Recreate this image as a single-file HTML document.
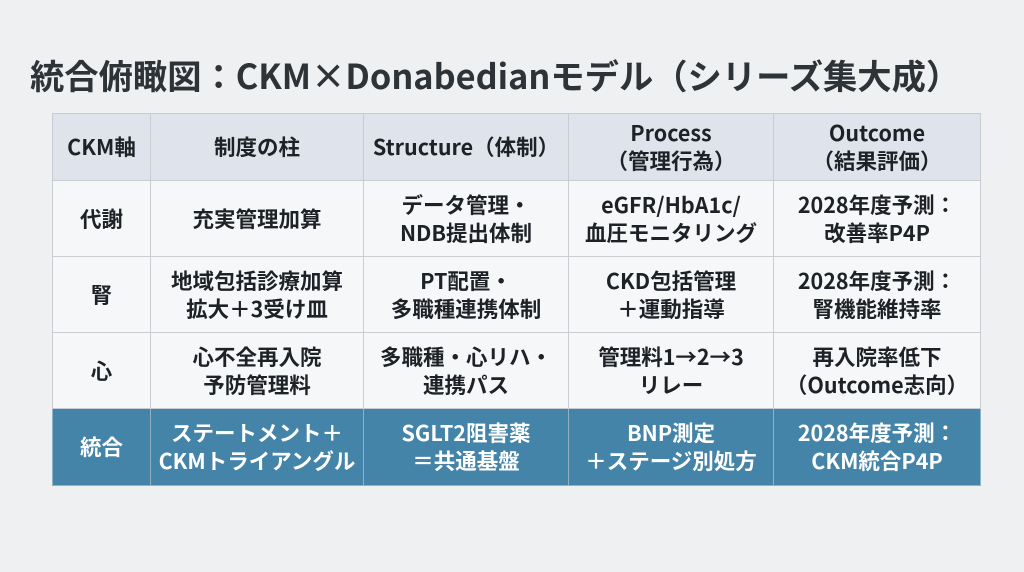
<!DOCTYPE html>
<html><head><meta charset="utf-8"><style>
body{margin:0;width:1024px;height:572px;background:#eff0f2;font-family:"Noto Sans CJK JP",sans-serif;overflow:hidden;position:relative}
h1{position:absolute;left:30px;top:50px;margin:0;font-size:34.3px;line-height:48px;font-weight:bold;color:#2e3338;white-space:nowrap}
table{position:absolute;left:52px;top:113px;border-collapse:collapse;table-layout:fixed}
td{border:1px solid #c9ccd1;text-align:center;vertical-align:middle;font-size:21.5px;font-weight:bold;color:#1e2226;line-height:28px;background:#f6f7f9;padding:0;white-space:nowrap}
tr.h td{background:#dfe3ec;height:66px}
tr.b td{height:75px}
tr.f td{background:#4484a8;color:#fff;height:76px;border-color:#8fb2c7}
</style></head><body>
<h1>統合俯瞰図：CKM×Donabedianモデル（シリーズ集大成）</h1>
<table>
<colgroup><col style="width:98px"><col style="width:213px"><col style="width:205px"><col style="width:205px"><col style="width:207px"></colgroup>
<tr class="h"><td>CKM軸</td><td>制度の柱</td><td>Structure（体制）</td><td>Process<br>（管理行為）</td><td>Outcome<br>（結果評価）</td></tr>
<tr class="b"><td>代謝</td><td>充実管理加算</td><td>データ管理・<br>NDB提出体制</td><td>eGFR/HbA1c/<br>血圧モニタリング</td><td>2028年度予測：<br>改善率P4P</td></tr>
<tr class="b"><td>腎</td><td>地域包括診療加算<br>拡大＋3受け皿</td><td>PT配置・<br>多職種連携体制</td><td>CKD包括管理<br>＋運動指導</td><td>2028年度予測：<br>腎機能維持率</td></tr>
<tr class="b"><td>心</td><td>心不全再入院<br>予防管理料</td><td>多職種・心リハ・<br>連携パス</td><td>管理料1→2→3<br>リレー</td><td>再入院率低下<br>（Outcome志向）</td></tr>
<tr class="f"><td>統合</td><td>ステートメント＋<br>CKMトライアングル</td><td>SGLT2阻害薬<br>＝共通基盤</td><td>BNP測定<br>＋ステージ別処方</td><td>2028年度予測：<br>CKM統合P4P</td></tr>
</table>
</body></html>
